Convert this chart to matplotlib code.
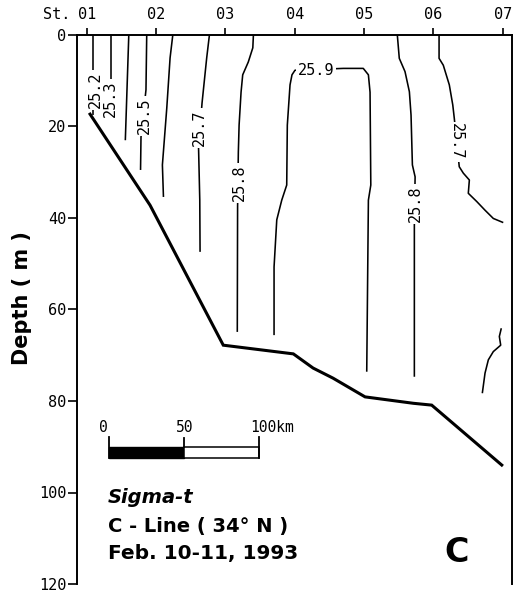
import matplotlib
matplotlib.use("Agg")
import matplotlib.pyplot as plt
from matplotlib.patches import Rectangle

# Stations along the C-Line (distance in km from St. 01)
station_km = [0, 46, 92, 138, 184, 230, 276]
station_labels = ["01", "02", "03", "04", "05", "06", "07"]
depth_ticks = [0, 20, 40, 60, 80, 100, 120]

# Sea-floor profile
bottom_km = [2.2, 42.0, 90.6, 137.1, 150.2, 163.4, 184.7, 216.7, 228.9, 275.4]
bottom_depth = [17.3, 37.2, 67.8, 69.7, 72.8, 75.0, 79.1, 80.5, 80.9, 94.0]

# Sigma-t isolines (km, depth in m)
s252_km = [4.0, 4.0]
s252_depth = [0.0, 17.5]
s253_km = [15.9, 15.9]
s253_depth = [0.0, 18.1]
s254_km = [27.9, 25.6]
s254_depth = [0.0, 23.0]
s255_km = [39.8, 39.3, 36.0, 35.7]
s255_depth = [0.0, 12.0, 22.3, 29.5]
s256_km = [57.1, 55.3, 53.1, 50.2, 50.9]
s256_depth = [0.0, 5.0, 16.0, 28.4, 35.4]
s257w_km = [81.4, 79.6, 76.5, 74.2, 75.0, 75.2]
s257w_depth = [0.0, 5.0, 14.9, 24.7, 36.0, 47.4]
s258w_km = [110.6, 110.2, 107.2, 103.5, 102.4, 101.1, 100.6, 100.1, 99.9]
s258w_depth = [0.0, 2.8, 5.9, 8.7, 12.5, 19.7, 25.6, 37.6, 64.9]
s259_km = [124.3, 124.3, 126.1, 129.4, 132.7, 133.1, 134.9, 136.2, 138.2,
           170.3, 183.5, 186.9, 188.0, 188.5, 186.9, 185.8]
s259_depth = [65.6, 50.7, 40.4, 36.1, 32.8, 19.7, 10.9, 8.7, 7.7,
              7.3, 7.3, 8.7, 12.5, 32.8, 36.1, 73.6]
s258e_km = [206.1, 207.4, 211.2, 214.1, 215.2, 216.1, 217.9, 217.4, 217.4]
s258e_depth = [0.0, 5.1, 8.0, 12.4, 17.5, 28.4, 31.0, 41.1, 74.7]
s257e_km = [233.8, 233.8, 236.6, 240.6, 242.9, 243.9, 247.2, 249.9, 253.9,
            253.2, 258.8, 264.3, 269.8, 276.4]
s257e_depth = [0.0, 5.1, 6.6, 10.9, 15.3, 18.2, 28.8, 30.2, 31.7,
               34.6, 36.4, 38.3, 40.1, 41.0]
s257s_km = [275.1, 273.8, 274.7, 269.8, 266.5, 264.3, 262.5]
s257s_depth = [64.1, 65.9, 67.8, 69.2, 71.0, 73.9, 78.3]

isolines = [
    (s252_km, s252_depth), (s253_km, s253_depth), (s254_km, s254_depth),
    (s255_km, s255_depth), (s256_km, s256_depth), (s257w_km, s257w_depth),
    (s258w_km, s258w_depth), (s259_km, s259_depth), (s258e_km, s258e_depth),
    (s257e_km, s257e_depth), (s257s_km, s257s_depth),
]

# Isoline labels: text, km, depth, rotation
isoline_labels = [
    ("25.2", 5.5, 12.0, 90),
    ("25.3", 15.9, 14.0, 90),
    ("25.5", 38.0, 17.7, 90),
    ("25.7", 74.5, 20.3, 90),
    ("25.8", 101.1, 32.3, 90),
    ("25.9", 152.0, 7.7, 0),
    ("25.8", 218.4, 36.9, 90),
    ("25.7", 245.5, 23.3, -90),
]

scale_values = [0, 50, 100]

mono = "DejaVu Sans Mono"
sans = "DejaVu Sans"

fig = plt.figure(figsize=(5.13, 5.95), dpi=100)
ax = fig.add_axes([76.5 / 513, 11 / 595, 435.2 / 513, 549 / 595])
ax.set_xlim(-6.8, 282.0)
ax.set_ylim(120, 0)

for km, dep in isolines:
    ax.plot(km, dep, color="black", lw=1.15, solid_joinstyle="round",
            solid_capstyle="butt", zorder=3)

for txt, km, dep, rot in isoline_labels:
    ax.text(km, dep, txt, rotation=rot, ha="center", va="center",
            family=mono, fontsize=11, zorder=4,
            bbox=dict(boxstyle="square,pad=0.12", fc="white", ec="none"))

ax.plot(bottom_km, bottom_depth, color="black", lw=2.2,
        solid_joinstyle="miter", zorder=5)

# Axes frame and ticks
for side in ("left", "right", "top"):
    ax.spines[side].set_linewidth(1.4)
ax.spines["bottom"].set_visible(False)

ax.xaxis.tick_top()
ax.set_xticks(station_km)
ax.set_xticklabels(station_labels, family=mono, fontsize=11)
ax.tick_params(axis="x", direction="out", length=5, width=1.2, pad=4.5)
ax.annotate("St.", xy=(station_km[0], 1), xycoords=ax.get_xaxis_transform(),
            xytext=(-12, 9.5), textcoords="offset points",
            ha="right", va="bottom", family=mono, fontsize=11)

ax.set_yticks(depth_ticks)
ax.set_yticklabels([str(v) for v in depth_ticks], family=mono, fontsize=11)
ax.tick_params(axis="y", direction="out", length=6.5, width=1.2, pad=1)
ax.tick_params(right=False, bottom=False)

ax.set_ylabel("Depth ( m )", family=sans, fontweight="bold", fontsize=15)
ax.yaxis.set_label_coords(-0.102, 0.521)

# Distance scale bar
bar_start = 14.5
bar_top, bar_bot = 90.1, 92.4
half = scale_values[1]
full = scale_values[2]
ax.add_patch(Rectangle((bar_start, bar_top), half, bar_bot - bar_top,
                       fc="black", ec="black", lw=1.0, zorder=5))
ax.add_patch(Rectangle((bar_start + half, bar_top), full - half, bar_bot - bar_top,
                       fc="white", ec="black", lw=1.1, zorder=5))
ax.plot([bar_start, bar_start], [87.8, bar_bot], color="black", lw=1.3, zorder=6)
ax.plot([bar_start + half, bar_start + half], [88.1, bar_top], color="black", lw=1.3, zorder=6)
ax.plot([bar_start + full, bar_start + full], [87.8, bar_bot], color="black", lw=1.3, zorder=6)
ax.text(bar_start - 3.5, 86.7, str(scale_values[0]), ha="center", va="baseline",
        family=mono, fontsize=10.5)
ax.text(bar_start + half + 0.7, 86.7, str(scale_values[1]), ha="center", va="baseline",
        family=mono, fontsize=10.5)
ax.text(bar_start + full - 6.1, 86.7, f"{scale_values[2]}km", ha="left", va="baseline",
        family=mono, fontsize=10.5)

# Titles
ax.text(14.1, 102.2, "Sigma-t", family=sans, fontweight="bold", fontstyle="italic",
        fontsize=14, va="baseline", ha="left")
ax.text(14.1, 108.6, "C - Line ( 34° N )", family=sans, fontweight="bold",
        fontsize=14, va="baseline", ha="left")
ax.text(14.1, 114.6, "Feb. 10-11, 1993", family=sans, fontweight="bold",
        fontsize=14.5, va="baseline", ha="left")
ax.text(245.5, 115.2, "C", family=sans, fontweight="bold", fontsize=24,
        va="baseline", ha="center")

fig.savefig("out.png", dpi=100)
